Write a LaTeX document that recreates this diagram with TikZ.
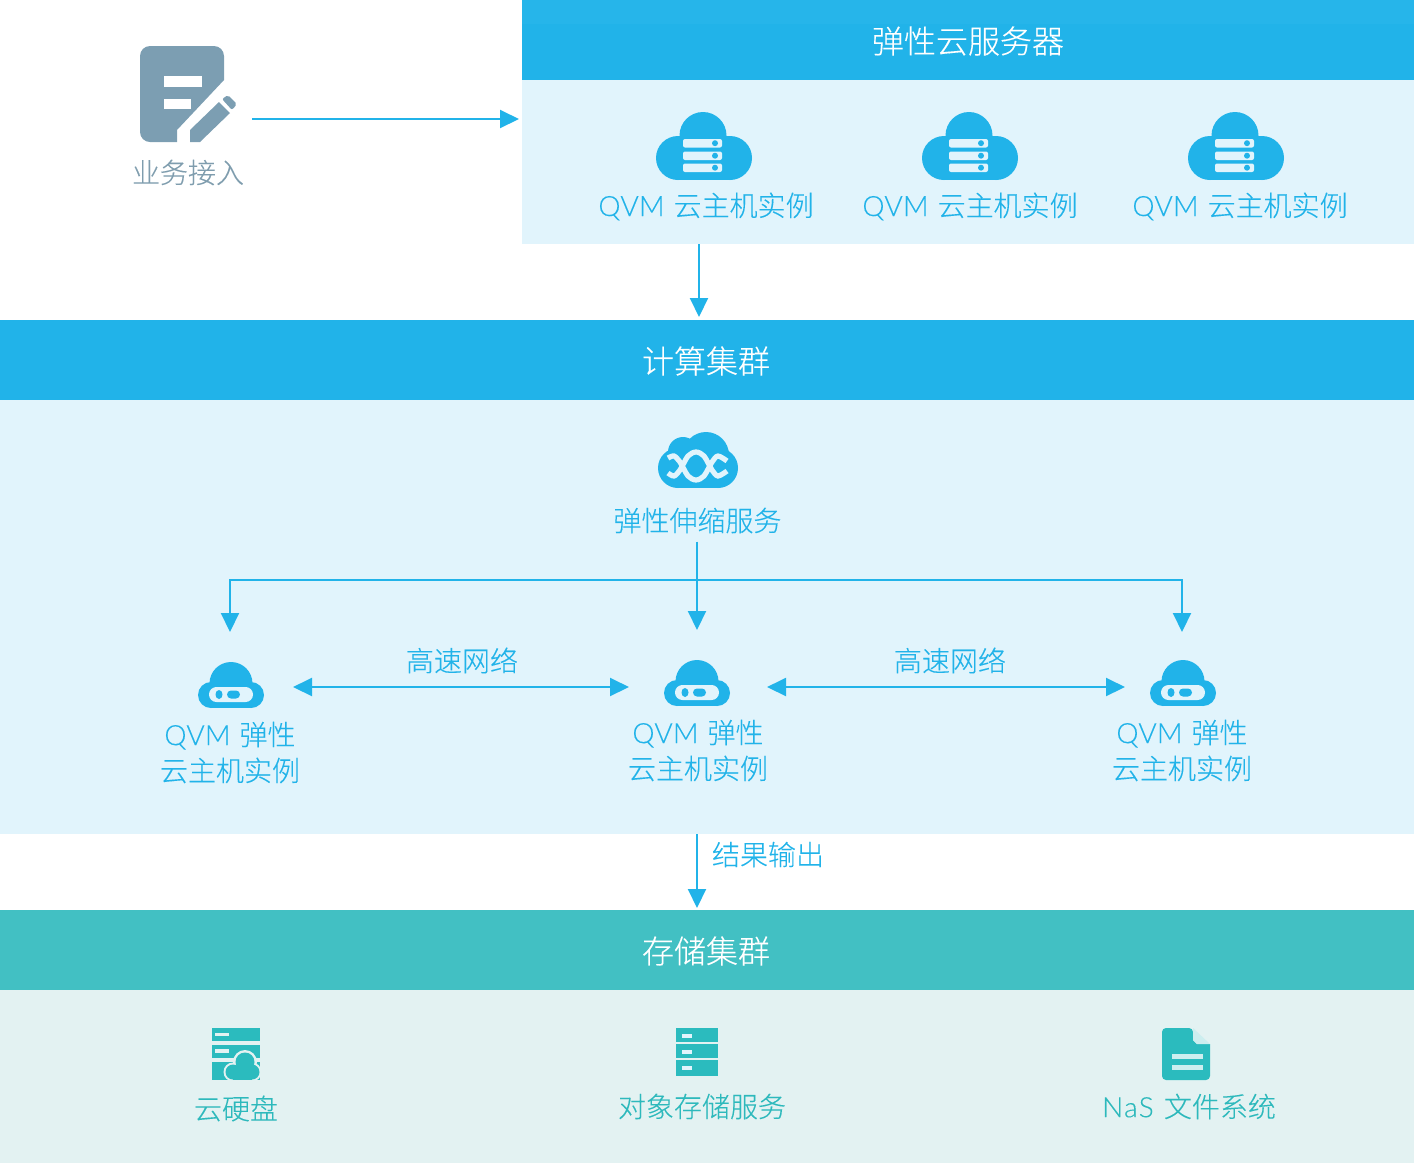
\documentclass[tikz,border=0pt]{standalone}
\usepackage{fontspec}
\setmainfont{Noto Sans CJK SC}[UprightFont=* Light, FakeBold = 0.2]
\newfontfamily\latinFace{Lato}[UprightFont=* Light, FakeBold = 0.2, LetterSpace = 1]
\usetikzlibrary{arrows.meta}
\definecolor{skyBar}{HTML}{21B3E9}
\definecolor{skyTop}{HTML}{26B5EA}
\definecolor{skyPale}{HTML}{E1F4FC}
\definecolor{tealBar}{HTML}{42C0C3}
\definecolor{tealPale}{HTML}{E3F2F2}
\definecolor{tealIcon}{HTML}{2BBBBE}
\definecolor{tealText}{HTML}{2DB9BC}
\definecolor{tealSoft}{HTML}{CDEEEF}
\definecolor{slateIcon}{HTML}{7C9EB2}
\definecolor{slateText}{HTML}{7F9DAE}
\newcommand{\qvmTag}{{\latinFace QVM}\ \hspace{1.5pt}}
\tikzstyle{panel} = [rectangle, anchor = north west, inner sep = 0, outer sep = 0]
\tikzstyle{barText} = [text = white, font = \fontsize{16}{20}\selectfont, inner sep = 0]
\tikzstyle{skyText} = [text = skyBar, font = \fontsize{14}{18}\selectfont, align = center, inner sep = 0]
\tikzstyle{tealLabel} = [text = tealText, font = \fontsize{14}{18}\selectfont, inner sep = 0]
\tikzstyle{iconBox} = [rectangle, minimum width = 33pt, minimum height = 24pt, inner sep = 0, outer sep = 0]
\tikzstyle{flow} = [-{Triangle[length = 9.5pt, width = 9pt]}, color = skyBar, line width = 1pt]
\tikzstyle{flowBoth} = [{Triangle[length = 9.5pt, width = 9pt]}-{Triangle[length = 9.5pt, width = 9pt]}, color = skyBar, line width = 1pt]
\tikzset{
  srvCloud/.pic = {
    \fill [skyBar] (-26,46) circle [radius = 22];
    \fill [skyBar] (26,46) circle [radius = 22];
    \fill [skyBar] (-1,23.5) circle [radius = 23.5];
    \fill [skyBar] (-26,24) rectangle (26,68);
    \foreach \rowY in {27,39.5,51.5} {
      \fill [skyPale, rounded corners = 1pt] (-21,\rowY) rectangle (18,\rowY+8.5);
      \fill [skyBar] (11,\rowY+4.2) circle [radius = 3];
    }
  },
  botCloud/.pic = {
    \fill [skyBar] (-20,33) circle [radius = 13];
    \fill [skyBar] (20,33) circle [radius = 13];
    \fill [skyBar] (0,21.5) circle [radius = 21.5];
    \fill [skyBar] (-20,22) rectangle (20,46);
    \fill [skyPale, rounded corners = 3.7pt] (-22,25) rectangle (22,40);
    \fill [skyBar] (-12,32.5) ellipse [x radius = 3.5, y radius = 4.5];
    \fill [skyBar, rounded corners = 2pt] (-4,28.5) rectangle (9,36.5);
  }
}
\begin{document}
\begin{tikzpicture}[x = 0.5pt, y = -0.5pt]
\useasboundingbox (0,0) rectangle (1414,1164);
% top block
\node (ecsBody) [panel, fill = skyPale, minimum width = 446pt, minimum height = 82pt] at (522,80) {};
\node (ecsHead) [panel, fill = skyBar, minimum width = 446pt, minimum height = 40pt] at (522,0) {};
\node (ecsStrip) [panel, fill = skyTop, minimum width = 446pt, minimum height = 12pt] at (522,0) {};
\node (ecsTitle) [barText] at (968,41) {弹性云服务器};
\pic at (704,112) {srvCloud};
\pic at (970,112) {srvCloud};
\pic at (1236,112) {srvCloud};
\node (ecsVmA) [skyText] at (706,206.5) {\qvmTag 云主机实例};
\node (ecsVmB) [skyText] at (970,206.5) {\qvmTag 云主机实例};
\node (ecsVmC) [skyText] at (1240,206.5) {\qvmTag 云主机实例};
% business entry icon
\fill [slateIcon] (224,80) [rounded corners = 5pt] -- (224,46) -- (140,46) -- (140,142) [sharp corners] -- (177,142) -- (177,130) -- cycle;
\fill [white] (164,76) rectangle (202,87);
\fill [white] (164,99) rectangle (191,109);
\fill [slateIcon] (190,130) -- (219,102) -- (230,113) -- (200,142) -- (190,142) -- cycle;
\fill [slateIcon, rounded corners = 1pt] (222,99) -- (228,95) -- (237,104) -- (232,110) -- cycle;
\node (entryText) [text = slateText, font = \fontsize{14}{18}\selectfont, inner sep = 0] at (188,172.5) {业务接入};
\coordinate (entryTail) at (252,119);
\coordinate (ecsTip) at (519,119);
\draw [flow] (entryTail) -- (ecsTip);
\coordinate (computeTip) at (699,317);
\draw [flow] (ecsBody.south -| computeTip) -- (computeTip);
% compute cluster
\node (computeBody) [panel, fill = skyPale, minimum width = 707pt, minimum height = 217pt] at (0,400) {};
\node (computeHead) [panel, fill = skyBar, minimum width = 707pt, minimum height = 40pt] at (0,320) {};
\node (computeTitle) [barText] at (706,361) {计算集群};
\fill [skyBar] (678,468) circle [radius = 20];
\fill [skyBar] (718,468) circle [radius = 20];
\fill [skyBar] (706,455) circle [radius = 23];
\fill [skyBar] (683,452) circle [radius = 15];
\fill [skyBar] (678,460) rectangle (718,488);
\draw [skyPale, line width = 2.6pt] plot [smooth] coordinates {(668,458) (674,456) (680,462) (688,476) (696,480) (704,476) (712,462) (718,456) (727,461)};
\draw [skyPale, line width = 2.6pt] plot [smooth] coordinates {(668,473) (674,476) (680,470) (688,456) (696,452) (704,456) (712,470) (718,476) (727,471)};
\node (scaleText) [skyText] at (697.5,520.5) {弹性伸缩服务};
\coordinate (fanMid) at (697,580);
\coordinate (tipLeft) at (230,632);
\coordinate (tipMid) at (697,630);
\coordinate (tipRight) at (1182,632);
\draw [flow, shorten <= 4pt] (scaleText.south -| tipMid) -- (tipMid);
\draw [flow] (fanMid) -| (tipRight);
\draw [flow] (fanMid) -| (tipLeft);
\pic at (231,662) {botCloud};
\pic at (697,660) {botCloud};
\pic at (1183,660) {botCloud};
\node (vmLeft) [iconBox] at (231,687) {};
\node (vmMid) [iconBox] at (697,687) {};
\node (vmRight) [iconBox] at (1183,687) {};
\node (vmLeftText) [skyText] at (230,752.5) {\qvmTag 弹性\\云主机实例};
\node (vmMidText) [skyText] at (698,750.5) {\qvmTag 弹性\\云主机实例};
\node (vmRightText) [skyText] at (1182,750.5) {\qvmTag 弹性\\云主机实例};
\draw [flowBoth, shorten <= 14.5pt, shorten >= 17.5pt] (vmLeft.east) -- (vmMid.west);
\draw [flowBoth, shorten <= 18.5pt, shorten >= 12.5pt] (vmMid.east) -- (vmRight.west);
\node (linkTextA) [skyText] at (462,660.5) {高速网络};
\node (linkTextB) [skyText] at (950,660.5) {高速网络};
\coordinate (storeTip) at (697,908);
\draw [flow] (computeBody.south -| storeTip) -- (storeTip);
\node (resultText) [skyText] at (768,854.5) {结果输出};
% storage cluster
\node (storeBody) [panel, fill = tealPale, minimum width = 707pt, minimum height = 86.5pt] at (0,990) {};
\node (storeHead) [panel, fill = tealBar, minimum width = 707pt, minimum height = 40pt] at (0,910) {};
\node (storeTitle) [barText] at (706,951) {存储集群};
% cloud disk icon
\fill [tealIcon] (212,1028) rectangle (260,1041);
\fill [tealIcon] (212,1045) rectangle (260,1058);
\fill [tealIcon] (212,1062) rectangle (260,1080);
\fill [tealPale] (215,1033) rectangle (229,1036);
\fill [tealPale] (215,1049) rectangle (229,1053);
\fill [tealPale] (245,1062) circle [radius = 12];
\fill [tealPale] (233,1072) circle [radius = 9.5];
\fill [tealPale] (252,1072) circle [radius = 9.5];
\fill [tealIcon] (245,1062) circle [radius = 9.5];
\fill [tealIcon] (233,1072) circle [radius = 7.5];
\fill [tealIcon] (252,1072) circle [radius = 7.5];
\fill [tealIcon] (233,1070) rectangle (252,1079.5);
\node (diskText) [tealLabel] at (236,1108.5) {云硬盘};
% object storage icon
\foreach \rowTop/\rowEnd in {1028/1042, 1044/1058, 1060/1076} {
  \fill [tealIcon] (676,\rowTop) rectangle (718,\rowEnd);
  \fill [skyPale] (682,\rowTop+6) rectangle (692,\rowTop+10);
}
\node (objectText) [tealLabel] at (702,1106.5) {对象存储服务};
% file system icon
\fill [tealIcon] (1193,1028) -- (1193,1040) -- (1197,1044) -- (1210,1044) [rounded corners = 2pt] -- (1210,1080) -- (1162,1080) -- (1162,1028) -- cycle;
\fill [tealSoft] (1193,1028) -- (1210,1044) -- (1197,1044) -- (1193,1040) -- cycle;
\fill [tealSoft] (1172,1054) rectangle (1203,1059);
\fill [tealSoft] (1172,1065) rectangle (1203,1070);
\node (fileText) [tealLabel] at (1189,1106.5) {{\latinFace\addfontfeature{LetterSpace = 5}NaS}\hspace{2pt} 文件系统};
\end{tikzpicture}
\end{document}
